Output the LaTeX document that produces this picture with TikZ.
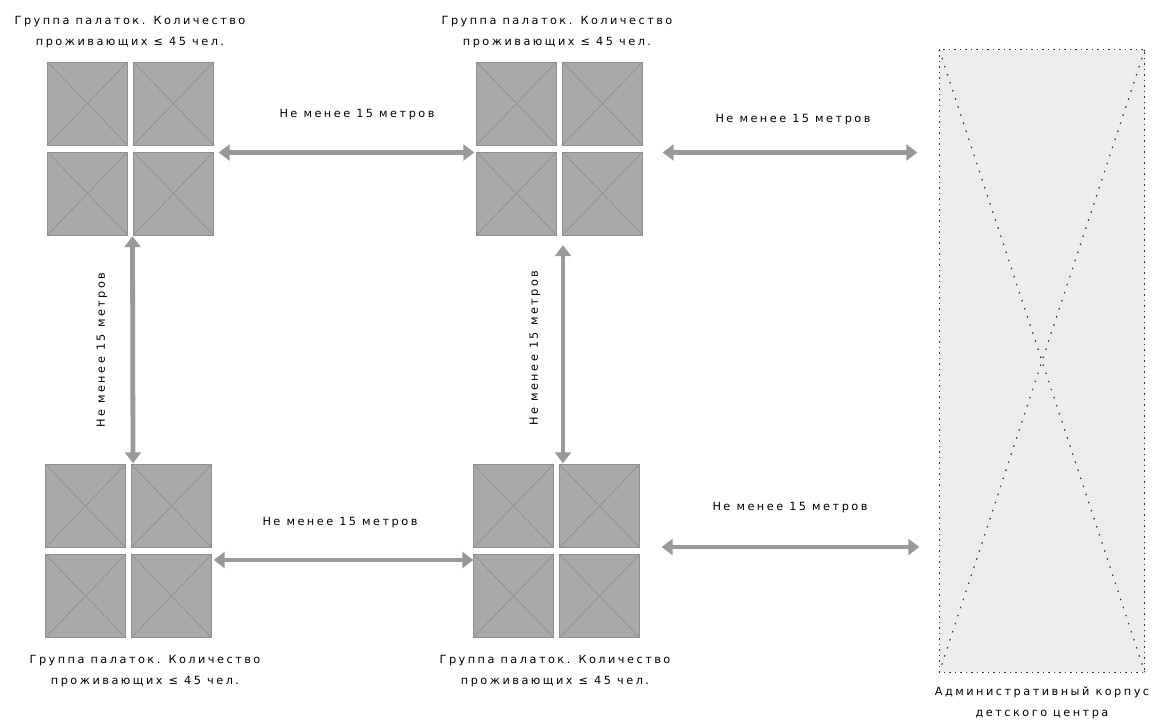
\documentclass[tikz,border=0pt]{standalone}
\usepackage{fontspec}
\newfontfamily\lblfont[LetterSpace=22]{DejaVu Sans}
\usetikzlibrary{arrows.meta,calc}
\definecolor{sqfill}{HTML}{A9A9A9}
\definecolor{sqline}{HTML}{8E8E8E}
\definecolor{arrowgray}{HTML}{999999}
\definecolor{admfill}{HTML}{EDEDED}
\tikzset{
  sq/.style={draw=sqline, line width=0.6pt, fill=sqfill, minimum width=80pt, minimum height=83pt, inner sep=0pt,
    path picture={\draw[sqline,line width=0.6pt] (path picture bounding box.north west) -- (path picture bounding box.south east)
      (path picture bounding box.north east) -- (path picture bounding box.south west);}},
  grp/.style={minimum width=166pt, minimum height=173pt, inner sep=0pt},
  dist/.style={{Triangle[width=16pt,length=11pt]}-{Triangle[width=16pt,length=11pt]}, line width=4.8pt, draw=arrowgray},
  lbl/.style={font=\lblfont\fontsize{11.3}{20.5}\selectfont, align=center, inner sep=0pt, text=black},
  adm/.style={fill=admfill, minimum width=205pt, minimum height=622pt, inner sep=0pt},
  admline/.style={draw=black!80, line width=1.2pt, dash pattern=on 1.5pt off 4pt},
}
\newcommand{\tentgroup}[3]{%
  \node[grp] (#1) at (#2,#3) {};
  \node[sq] (#1-a) at ($(#1.center)+(-43,-45)$) {};
  \node[sq] (#1-b) at ($(#1.center)+(43,-45)$) {};
  \node[sq] (#1-c) at ($(#1.center)+(-43,45)$) {};
  \node[sq] (#1-d) at ($(#1.center)+(43,45)$) {};
}
\begin{document}
\begin{tikzpicture}[x=1pt,y=-1pt]
\useasboundingbox (0,0) rectangle (1162,725);
\fill[white] (0,0) rectangle (1162,725);

\tentgroup{g1}{130.5}{148.5}
\tentgroup{g2}{559.5}{148.5}
\tentgroup{g3}{128.5}{551}
\tentgroup{g4}{556.5}{551}

\node[adm] (adm) at (1042,361) {};
\draw[admline] (adm.north west) rectangle (adm.south east);
\draw[admline, dash pattern=on 1.5pt off 7pt] (adm.north west) -- (adm.south east);
\draw[admline, dash pattern=on 1.5pt off 7pt] (adm.north east) -- (adm.south west);

% group labels
\node[lbl] (t1) at (130,32) {Группа палаток. Количество\\проживающих ≤ 45 чел.};
\node[lbl] (t2) at (557,32) {Группа палаток. Количество\\проживающих ≤ 45 чел.};
\node[lbl] (t3) at (145,671) {Группа палаток. Количество\\проживающих ≤ 45 чел.};
\node[lbl] (t4) at (555,671) {Группа палаток. Количество\\проживающих ≤ 45 чел.};
\node[lbl] (t5) at (1042,703) {Административный корпус\\детского центра};

% distance arrows
\coordinate (a1s) at ($(g1.east)+(5,4)$);
\coordinate (a1e) at ($(g2.west)+(-2,4)$);
\draw[dist] (a1s) -- (a1e);
\coordinate (a2s) at ($(g2.east)+(20,4)$);
\coordinate (a2e) at ($(adm.west |- g2.east)+(-22,4)$);
\draw[dist] (a2s) -- (a2e);
\coordinate (a3s) at ($(g3.east)+(2,9)$);
\coordinate (a3e) at ($(g4.west)+(0,9)$);
\draw[dist] (a3s) -- (a3e);
\coordinate (a4s) at ($(g4.east)+(22,-4)$);
\coordinate (a4e) at ($(adm.west |- g4.east)+(-20,-4)$);
\draw[dist] (a4s) -- (a4e);
\coordinate (a5s) at ($(g1.south)+(2,1)$);
\coordinate (a5e) at ($(g3.north)+(4.5,-1)$);
\draw[dist] (a5s) -- (a5e);
\coordinate (a6s) at ($(g2.south)+(3.5,10)$);
\coordinate (a6e) at ($(g4.north)+(6.5,-1)$);
\draw[dist] (a6s) -- (a6e);

% distance labels
\node[lbl] (d1) at (357,115) {Не менее 15 метров};
\node[lbl] (d2) at (793,120) {Не менее 15 метров};
\node[lbl] (d3) at (340,523) {Не менее 15 метров};
\node[lbl] (d4) at (790,508) {Не менее 15 метров};
\node[lbl, rotate=90] (d5) at (102,350) {Не менее 15 метров};
\node[lbl, rotate=90] (d6) at (535,348) {Не менее 15 метров};
\end{tikzpicture}
\end{document}
